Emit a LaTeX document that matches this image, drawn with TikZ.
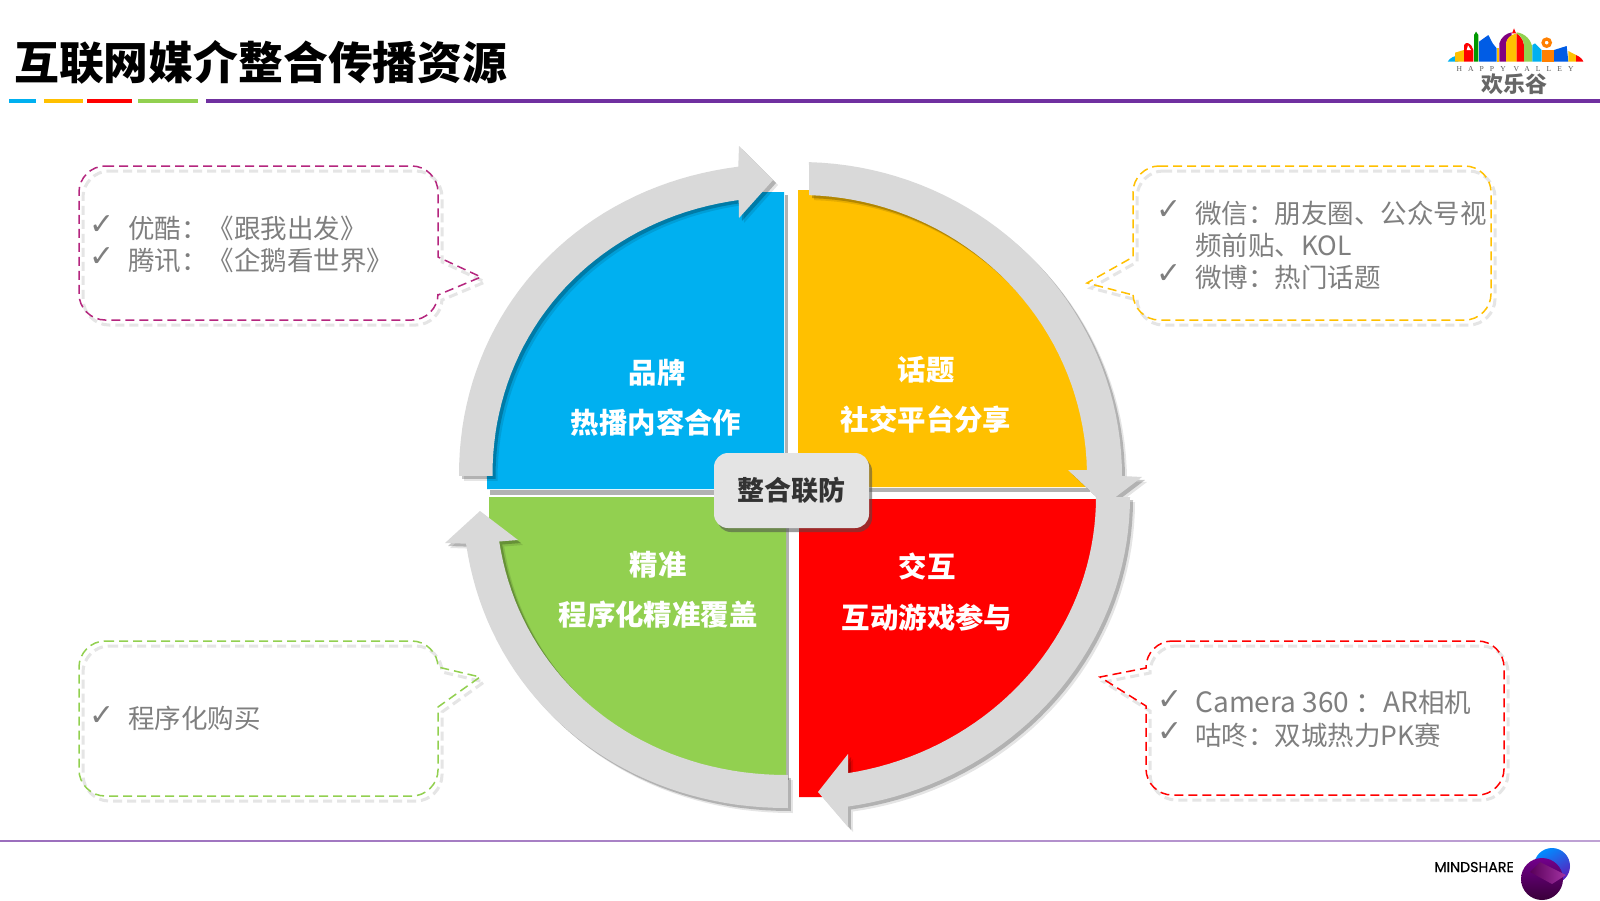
\documentclass[tikz,border=0pt]{standalone}
\usepackage{fontspec}
\setmainfont{Noto Sans CJK SC}
\newfontfamily\djfont{DejaVu Sans}
\newfontfamily\popfont[FakeBold=0.4]{Poppins}
\newfontfamily\serfont[LetterSpace=80]{Liberation Serif}
\usetikzlibrary{calc}
\definecolor{qblue}{HTML}{00B0F0}
\definecolor{qyellow}{HTML}{FFC000}
\definecolor{qred}{HTML}{FF0000}
\definecolor{qgreen}{HTML}{92D050}
\definecolor{qpurple}{HTML}{7030A0}
\definecolor{qmag}{HTML}{B5267E}
\definecolor{arcgray}{HTML}{D9D9D9}
\definecolor{boxgray}{HTML}{E4E4E4}
\definecolor{txtgray}{HTML}{7F7F7F}
% plain elliptical arcs
\newcommand{\ellstart}[6]{plot[domain=#5:#6,samples=40] ({#1+#3*cos(\x)},{#2+#4*sin(\x)})}
\newcommand{\ellarc}[6]{-- plot[domain=#5:#6,samples=40] ({#1+#3*cos(\x)},{#2+#4*sin(\x)})}
% slightly fuller arcs on the left-hand side: #3 and #4 are signed radii
\newcommand{\fullstart}[6]{plot[domain=#5:#6,samples=40] ({#1+#3*pow(max(abs(cos(\x)),0.0001),0.97)},{#2+#4*pow(max(abs(sin(\x)),0.0001),0.97)})}
\newcommand{\fullarc}[6]{-- plot[domain=#5:#6,samples=40] ({#1+#3*pow(max(abs(cos(\x)),0.0001),0.97)},{#2+#4*pow(max(abs(sin(\x)),0.0001),0.97)})}
\newcommand{\ptrRight}[8]{({#1+26},#2) -- ({#3-26},#2) .. controls ({#3-12},#2) and (#3,{#2+12}) .. (#3,{#2+26}) -- (#3,#5) -- (#6,#7) -- (#3,#8) -- (#3,{#4-26}) .. controls (#3,{#4-12}) and ({#3-12},#4) .. ({#3-26},#4) -- ({#1+26},#4) .. controls ({#1+12},#4) and (#1,{#4-12}) .. (#1,{#4-26}) -- (#1,{#2+26}) .. controls (#1,{#2+12}) and ({#1+12},#2) .. ({#1+26},#2) -- cycle}
\newcommand{\ptrLeft}[8]{({#1+26},#2) -- ({#3-26},#2) .. controls ({#3-12},#2) and (#3,{#2+12}) .. (#3,{#2+26}) -- (#3,{#4-26}) .. controls (#3,{#4-12}) and ({#3-12},#4) .. ({#3-26},#4) -- ({#1+26},#4) .. controls ({#1+12},#4) and (#1,{#4-12}) .. (#1,{#4-26}) -- (#1,#8) -- (#6,#7) -- (#1,#5) -- (#1,{#2+26}) .. controls (#1,{#2+12}) and ({#1+12},#2) .. ({#1+26},#2) -- cycle}
\newcommand{\arcA}{\fullstart{785}{476}{-326}{-312}{180}{262.4} -- (739,146) -- (773,180) -- (739,218) \fullarc{785}{476}{-292.5}{-279}{261.5}{180} -- cycle}
\newcommand{\arcB}{\ellstart{800}{476}{322}{314}{271.6}{360} -- (1142,477) -- (1105,505) -- (1068,470) \ellarc{800}{476}{287}{281}{358.8}{271.8} -- cycle}
\newcommand{\arcC}{\ellstart{799}{497}{331}{313}{0}{81.5} -- (848,827) -- (818,792) -- (848,754) \ellarc{799}{497}{297}{280}{80.5}{0} -- cycle}
\newcommand{\arcD}{\fullstart{788}{497}{-325}{311}{90}{172} -- (445,543) -- (480,511) -- (518,540) \fullarc{788}{497}{-292}{278}{171.4}{90} -- cycle}
\tikzset{
  px/.style={x=0.5pt,y=-0.5pt},
  dashline/.style={line width=0.75pt,dash pattern=on 4.5pt off 2.5pt,fill=none},
  dashshadow/.style={line width=1.5pt,dash pattern=on 4.5pt off 2.5pt,draw=black!10},
  quadtext/.style={inner sep=0pt,anchor=base,text=white,font=\fontsize{14.2}{14.2}\selectfont\bfseries},
  listtext/.style={inner sep=0pt,anchor=base west,text=txtgray,font=\fontsize{13.25}{13.25}\selectfont},
  tick/.style={inner sep=0pt,anchor=center,text=txtgray,font=\fontsize{15}{15}\djfont},
  shad/.style={fill=black,fill opacity=.22,draw=none},
  shadb/.style={fill=black,fill opacity=.10,draw=none},
  arcbody/.style={fill=arcgray,draw=none},
}
\begin{document}
\begin{tikzpicture}[px]
\useasboundingbox (0,0) rectangle (1600,900);
\fill[white] (0,0) rectangle (1600,900);
% title and rule
\node[inner sep=0pt,anchor=base west,font=\fontsize{22.4}{23}\selectfont\bfseries] (title) at (14,79) {互联网媒介整合传播资源};
\fill[qblue] (9,99) rectangle (36,103);
\fill[qyellow] (44,99) rectangle (83,103);
\fill[qred] (87,99) rectangle (132,103);
\fill[qgreen] (138,99) rectangle (198,103);
\fill[qpurple] (206,99) rectangle (1600,103);
% footer
\shade[left color=qpurple!70,right color=qpurple!45] (0,840) rectangle (1600,841.6);
\node[inner sep=0pt,anchor=base west,font=\fontsize{7.1}{7}\popfont\selectfont] (mindshare) at (1434,872) {MINDSHARE};
\begin{scope}
\clip (1500,840) rectangle (1600,900);
\shade[left color=blue!45!cyan,right color=violet!60!blue!90,shading angle=30] (1552,866) circle (18);
\shade[top color=violet!90!blue,bottom color=violet!45!black] (1542,879) circle (21);
\shade[left color=violet!70!black,right color=violet!90!magenta!80!white] (1530,872) -- (1540,862) -- (1566,875) -- (1552,884) -- cycle;
\end{scope}
% happy valley logo
\begin{scope}[shift={(1400,0)},scale=1/3]
\fill[qblue] (143,185) .. controls (150,172) and (165,168) .. (175,166) -- (175,185) -- cycle;
\fill[qyellow] (165,185) -- (165,158) -- (192,150) -- (192,185) -- cycle;
\fill[qred] (192,185) -- (192,135) .. controls (198,122) and (215,130) .. (220,150) -- (220,185) -- cycle;
\fill[white] (200,150) -- (204,136) -- (213,150) -- cycle;
\fill[green!60!black] (222,185) -- (222,105) -- (228,95) -- (235,105) -- (235,185) -- cycle;
\fill[blue!60!cyan!90!black] (237,185) -- (237,125) -- (265,105) -- (278,130) -- (290,145) -- (290,185) -- cycle;
\fill[qyellow] (290,185) -- (290,145) -- (298,145) -- (298,185) -- cycle;
\fill[violet] (298,185) -- (298,130) .. controls (303,112) and (318,100) .. (335,97) -- (335,108) .. controls (325,112) and (318,122) .. (318,135) -- (318,185) -- cycle;
\fill[qyellow] (318,185) -- (318,130) .. controls (320,115) and (330,105) .. (350,100) -- (350,185) -- cycle;
\fill[qred] (350,185) -- (350,100) .. controls (360,108) and (370,118) .. (372,135) -- (372,185) -- cycle;
\fill[qred] (336,100) -- (342,85) -- (348,100) -- cycle;
\fill[qgreen] (350,97) .. controls (375,100) and (395,120) .. (397,145) -- (397,185) -- (372,185) -- (372,135) .. controls (370,118) and (362,108) .. (350,100) -- cycle;
\fill[qblue] (397,185) -- (397,135) -- (405,130) -- (425,150) -- (425,185) -- cycle;
\fill[orange] (425,185) -- (425,150) -- (462,150) -- (462,185) -- cycle;
\draw[orange,line width=1.6pt] (440,128) circle (11);
\fill[blue!60!cyan!90!black] (462,185) -- (462,150) -- (500,138) -- (505,185) -- cycle;
\fill[qyellow] (505,185) -- (505,153) -- (528,165) -- (528,185) -- cycle;
\fill[qred] (528,185) -- (528,165) .. controls (540,170) and (548,178) .. (550,185) -- cycle;
\end{scope}
\node[inner sep=0pt,text=black!65,font=\fontsize{3.8}{4}\serfont] (hv) at (1515,69) {HAPPY VALLEY};
\node[inner sep=0pt,text=black!60,font=\fontsize{11}{11}\selectfont\bfseries] (hvcn) at (1514,84) {欢乐谷};
% quadrants
\fill[black!30] (490,490) rectangle (788,494.5);
\fill[black!30] (785,195) rectangle (788,494);
\fill[black!30] (800,488) rectangle (1090,492);
\fill[black!30] (786,497) rectangle (789,780);
\fill[qblue] (487,489) -- (784,489) -- (784,192) -- (739,192) \fullarc{785}{476}{-298}{-288}{262}{180} -- cycle;
\fill[qyellow] (798,487) -- (798,190) -- (809,190) \ellarc{800}{476}{290}{285}{271.8}{360} -- (1088,487) -- cycle;
\fill[qred] (799,499) -- (1097,499) \ellarc{799}{497}{300}{290}{0}{80.5} -- (822,797) -- (799,797) -- cycle;
\fill[qgreen] (489,497) -- (786,497) -- (786,778) \fullarc{788}{497}{-297}{285}{90}{172} -- (489,520) -- cycle;
% gray arrows
\foreach \pth in {\arcA,\arcB,\arcC,\arcD}{
  \begin{scope}[shift={(5,5)}] \path[shadb] \pth; \end{scope}
  \begin{scope}[shift={(3,3)}] \path[shad] \pth; \end{scope}
  \path[arcbody] \pth;
}
% centre
\fill[black!70,fill opacity=.55,rounded corners=7pt] (717,457) rectangle (872,532);
\node[draw=none,fill=boxgray,rounded corners=7pt,minimum width=77.5pt,minimum height=37.5pt,inner sep=0pt] (hub) at (791.5,490.5) {};
\node[inner sep=0pt,anchor=base,text=black!80,font=\fontsize{13.5}{14}\selectfont\bfseries] (hubtext) at (791,500) {整合联防};
% quadrant labels
\node[quadtext] (b1) at (657,383) {品牌};
\node[quadtext] (b2) at (656,433) {热播内容合作};
\node[quadtext] (y1) at (926,380) {话题};
\node[quadtext] (y2) at (926,430) {社交平台分享};
\node[quadtext] (g1) at (658,575) {精准};
\node[quadtext] (g2) at (658,625) {程序化精准覆盖};
\node[quadtext] (r1) at (927,577) {交互};
\node[quadtext] (r2) at (927,628) {互动游戏参与};
% callouts
\begin{scope}[shift={(4,5)}]
\draw[dashshadow] \ptrRight{79}{166}{438}{320}{257}{481}{277}{295};
\draw[dashshadow] \ptrLeft{1133}{166}{1491}{320}{257}{1087}{283}{295};
\draw[dashshadow] \ptrRight{79}{641}{438}{796}{667}{480}{677}{707};
\draw[dashshadow] \ptrLeft{1146}{641}{1504}{795}{668}{1100}{677}{706};
\end{scope}
\draw[dashline,draw=qmag] \ptrRight{79}{166}{438}{320}{257}{481}{277}{295};
\draw[dashline,draw=qyellow] \ptrLeft{1133}{166}{1491}{320}{257}{1087}{283}{295};
\draw[dashline,draw=qgreen] \ptrRight{79}{641}{438}{796}{667}{480}{677}{707};
\draw[dashline,draw=qred] \ptrLeft{1146}{641}{1504}{795}{668}{1100}{677}{706};
% list text
\node[tick] (c1) at (102,225) {✓};
\node[listtext] (t1) at (128,238) {优酷：《跟我出发》};
\node[tick] (c2) at (102,257) {✓};
\node[listtext] (t2) at (128,270) {腾讯：《企鹅看世界》};
\node[tick] (c3) at (1169,210) {✓};
\node[listtext] (t3) at (1195,223) {微信：朋友圈、公众号视};
\node[listtext] (t4) at (1195,255) {频前贴、KOL};
\node[tick] (c4) at (1169,274) {✓};
\node[listtext] (t5) at (1195,287) {微博：热门话题};
\node[tick] (c5) at (102,716) {✓};
\node[listtext] (t6) at (128,728) {程序化购买};
\node[tick] (c6) at (1170,700) {✓};
\node[listtext] (t7) at (1195,712) {{\fontsize{14}{14}\selectfont Camera 360 ：AR}相机};
\node[tick] (c7) at (1170,732) {✓};
\node[listtext] (t8) at (1195,745) {咕咚：双城热力PK赛};
\end{tikzpicture}
\end{document}
